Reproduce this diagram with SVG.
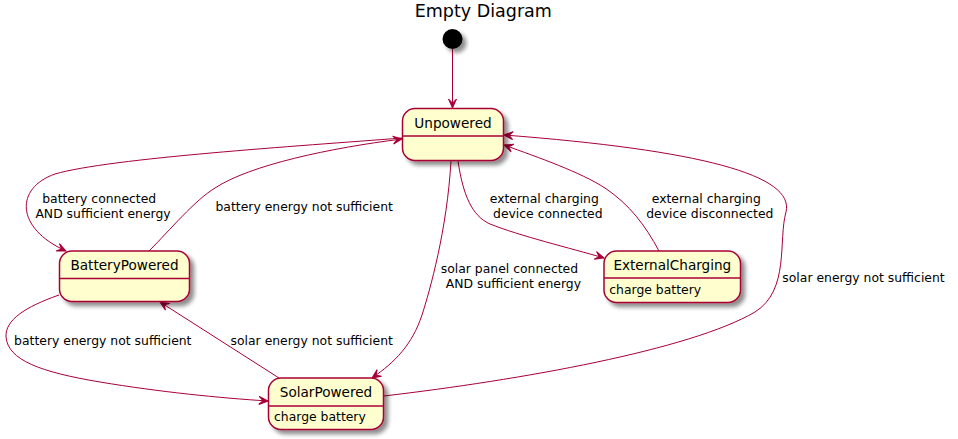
<svg xmlns="http://www.w3.org/2000/svg" width="958" height="439" viewBox="0 0 958 439">
<style>
.st{fill:#FEFECE;stroke:#A80036;stroke-width:1.5;filter:url(#sh)}
.sep{stroke:#A80036;stroke-width:1.5}
.nm{font-family:"DejaVu Sans",sans-serif;font-size:13.6px;fill:#000;text-anchor:middle}
.ds{font-family:"DejaVu Sans",sans-serif;font-size:12.4px;fill:#000}
.lb{font-family:"DejaVu Sans",sans-serif;font-size:12.4px;fill:#000;text-anchor:middle}
.e{fill:none;stroke:#A80036;stroke-width:1}
.ea{fill:none;stroke:#A80036;stroke-width:1;marker-end:url(#ah)}
</style>
<defs>
<filter id="sh" x="-20%" y="-20%" width="150%" height="160%">
<feGaussianBlur in="SourceAlpha" stdDeviation="2" result="b"/>
<feOffset in="b" dx="4" dy="4" result="o"/>
<feComponentTransfer in="o" result="s"><feFuncA type="linear" slope="0.45"/></feComponentTransfer>
<feMerge><feMergeNode in="s"/><feMergeNode in="SourceGraphic"/></feMerge>
</filter>
<marker id="ah" viewBox="-10 -5 11 10" refX="0" refY="0" markerWidth="11" markerHeight="10" markerUnits="userSpaceOnUse" orient="auto">
<path d="M0,0 L-9,-4 L-5,0 L-9,4 Z" fill="#A80036" stroke="#A80036" stroke-width="1"/>
</marker>
</defs>
<rect width="958" height="439" fill="#FFFFFF"/>
<text x="483.3" y="17" font-family="DejaVu Sans, sans-serif" font-size="17.5" text-anchor="middle" fill="#000">Empty Diagram</text>

<g id="connectors">
<path class="ea" d="M452.5,49 L452.5,108"/>
<path class="ea" d="M402,138 C300,146 110,158 55,174 C15,188 15,228 66,251"/>
<path class="ea" d="M149,251 C170,230 195,200 215,188 C250,165 330,148 402,139"/>
<path class="ea" d="M451,161 C447,230 430,290 422,315 C412,345 395,362 372,378"/>
<path class="ea" d="M458,161 C463,195 472,216 490,224 C520,236 570,248 604,258"/>
<path class="ea" d="M659,251 C645,225 630,205 605,188 C580,172 540,158 504,145"/>
<path class="ea" d="M384,396 C520,380 690,350 755,312 C790,290 778,240 786,212 C795,175 700,150 504,135"/>
<path class="ea" d="M59,295 C25,307 5,320 6,337 C8,360 40,372 100,382 C160,392 220,398 268,401"/>
<path class="ea" d="M279,378 L160,302"/>
<text class="lb" x="99.2" y="202.7">battery connected</text>
<text class="lb" x="103" y="217.7">AND sufficient energy</text>
<text class="lb" x="304.2" y="211">battery energy not sufficient</text>
<text class="lb" x="509.4" y="272.7">solar panel connected</text>
<text class="lb" x="513.4" y="287.7">AND sufficient energy</text>
<text class="lb" x="544.3" y="202.7">external charging</text>
<text class="lb" x="547.8" y="217.7">device connected</text>
<text class="lb" x="706.3" y="202.7">external charging</text>
<text class="lb" x="709.8" y="217.7">device disconnected</text>
<text class="lb" x="863.5" y="281.5">solar energy not sufficient</text>
<text class="lb" x="102.8" y="345">battery energy not sufficient</text>
<text class="lb" x="311.7" y="345">solar energy not sufficient</text>
</g>

<g id="start">
<circle cx="452.5" cy="39" r="10" fill="#000" filter="url(#sh)"/>
</g>

<g id="Unpowered">
<rect class="st" x="402.5" y="108.5" width="101" height="52" rx="12.5" ry="12.5"/>
<line class="sep" x1="402.5" y1="136" x2="503.5" y2="136"/>
<text class="nm" x="453" y="128">Unpowered</text>
</g>

<g id="BatteryPowered">
<rect class="st" x="59.5" y="251" width="130" height="50.5" rx="12.5" ry="12.5"/>
<line class="sep" x1="59.5" y1="278.5" x2="189.5" y2="278.5"/>
<text class="nm" x="124.5" y="270">BatteryPowered</text>
</g>

<g id="ExternalCharging">
<rect class="st" x="604" y="251" width="136.5" height="51.5" rx="12.5" ry="12.5"/>
<line class="sep" x1="604" y1="278" x2="740.5" y2="278"/>
<text class="nm" x="672.3" y="270">ExternalCharging</text>
<text class="ds" x="609.3" y="294">charge battery</text>
</g>

<g id="SolarPowered">
<rect class="st" x="268.5" y="378" width="115" height="51.5" rx="12.5" ry="12.5"/>
<line class="sep" x1="268.5" y1="406" x2="383.5" y2="406"/>
<text class="nm" x="326" y="396.7">SolarPowered</text>
<text class="ds" x="274" y="421">charge battery</text>
</g>
</svg>
